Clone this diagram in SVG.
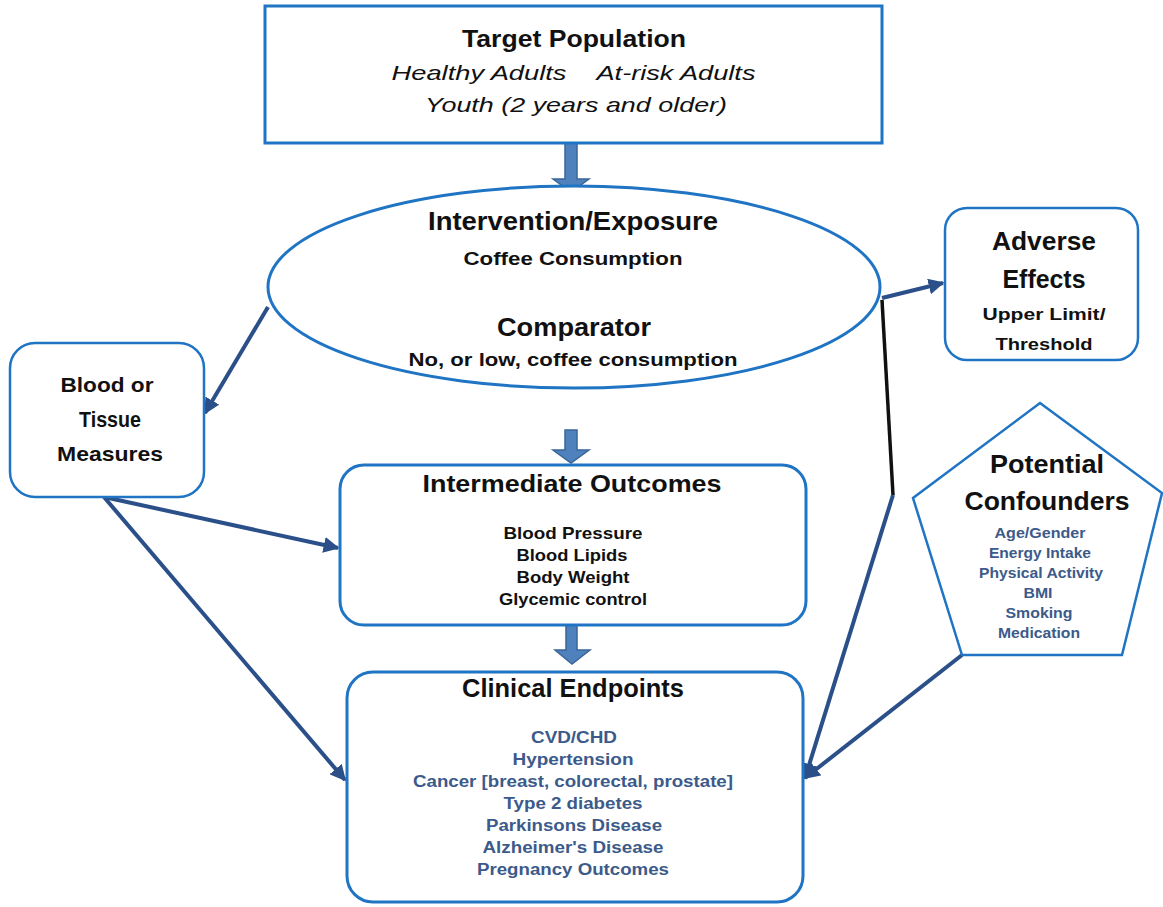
<svg xmlns="http://www.w3.org/2000/svg" width="1163" height="907" viewBox="0 0 1163 907">
<defs>
<style>
.box{fill:#fff;stroke:#1f74c4;stroke-width:3}
.thin{fill:#fff;stroke:#1f74c4;stroke-width:2.5}
.blk{fill:#4f81bd;stroke:#3a6698;stroke-width:1.5}
.con{fill:none;stroke:#2b5089;stroke-width:4}
.t{font-family:"Liberation Sans",Arial,sans-serif;font-weight:bold;fill:#111;text-anchor:middle}
.i{font-family:"Liberation Sans",Arial,sans-serif;font-style:italic;fill:#111;text-anchor:middle}
.b{font-family:"Liberation Sans",Arial,sans-serif;font-weight:bold;fill:#3c5a8a;text-anchor:middle}
</style>
<marker id="ah" viewBox="0 0 10 10" refX="9" refY="5" markerWidth="4" markerHeight="4" orient="auto" markerUnits="strokeWidth">
<path d="M0,0 L10,5 L0,10 z" fill="#2b5089"/>
</marker>
</defs>

<g id="connectors">
<path class="con" d="M268,307 L205,413" marker-end="url(#ah)"/>
<path class="con" d="M104,497 L338,548" marker-end="url(#ah)"/>
<path class="con" d="M104,497 L345,780" marker-end="url(#ah)"/>
<path class="con" d="M882,298 L943,283" marker-end="url(#ah)"/>
<path d="M882,300 L893,495" fill="none" stroke="#111" stroke-width="3.5"/>
<path class="con" d="M893,495 L805,778" marker-end="url(#ah)"/>
<path class="con" d="M962,655 L805,778" marker-end="url(#ah)"/>
<path class="blk" d="M565,143 L577,143 L577,179 L589,179 L571,192 L553,179 L565,179 z"/>
<path class="blk" d="M565,430 L577,430 L577,450 L589,450 L571,463 L553,450 L565,450 z"/>
<path class="blk" d="M566,624 L577,624 L577,650 L590,650 L572,664 L555,650 L566,650 z"/>
</g>

<g id="target">
<rect class="box" x="265" y="6" width="617" height="137"/>
<text class="t" x="574" y="47" font-size="24" textLength="224" lengthAdjust="spacingAndGlyphs">Target Population</text>
<text class="i" x="479" y="80" font-size="21" textLength="175" lengthAdjust="spacingAndGlyphs">Healthy Adults</text>
<text class="i" x="676" y="80" font-size="21" textLength="159" lengthAdjust="spacingAndGlyphs">At-risk Adults</text>
<text class="i" x="576" y="112" font-size="21" textLength="302" lengthAdjust="spacingAndGlyphs">Youth (2 years and older)</text>
</g>

<g id="intervention">
<ellipse class="box" cx="574" cy="287" rx="306" ry="101"/>
<text class="t" x="573" y="230" font-size="25" textLength="290" lengthAdjust="spacingAndGlyphs">Intervention/Exposure</text>
<text class="t" x="573" y="265" font-size="19" textLength="219" lengthAdjust="spacingAndGlyphs">Coffee Consumption</text>
<text class="t" x="574" y="336" font-size="25" textLength="154" lengthAdjust="spacingAndGlyphs">Comparator</text>
<text class="t" x="573" y="366" font-size="19" textLength="329" lengthAdjust="spacingAndGlyphs">No, or low, coffee consumption</text>
</g>

<g id="adverse">
<rect class="thin" x="945" y="208" width="193" height="152" rx="22"/>
<text class="t" x="1044" y="250" font-size="25" textLength="104" lengthAdjust="spacingAndGlyphs">Adverse</text>
<text class="t" x="1044" y="288" font-size="25" textLength="83" lengthAdjust="spacingAndGlyphs">Effects</text>
<text class="t" x="1044" y="320" font-size="17" textLength="123" lengthAdjust="spacingAndGlyphs">Upper Limit/</text>
<text class="t" x="1044" y="350" font-size="17" textLength="97" lengthAdjust="spacingAndGlyphs">Threshold</text>
</g>

<g id="confounders">
<polygon class="thin" points="1040,403 1162,493 1122,655 962,655 913,498"/>
<text class="t" x="1047" y="473" font-size="26" textLength="114" lengthAdjust="spacingAndGlyphs">Potential</text>
<text class="t" x="1047" y="510" font-size="26" textLength="165" lengthAdjust="spacingAndGlyphs">Confounders</text>
<text class="b" x="1040" y="538" font-size="15" textLength="91" lengthAdjust="spacingAndGlyphs">Age/Gender</text>
<text class="b" x="1040" y="558" font-size="15" textLength="102" lengthAdjust="spacingAndGlyphs">Energy Intake</text>
<text class="b" x="1041" y="578" font-size="15" textLength="124" lengthAdjust="spacingAndGlyphs">Physical Activity</text>
<text class="b" x="1038" y="598" font-size="15" textLength="29" lengthAdjust="spacingAndGlyphs">BMI</text>
<text class="b" x="1039" y="618" font-size="15" textLength="67" lengthAdjust="spacingAndGlyphs">Smoking</text>
<text class="b" x="1039" y="638" font-size="15" textLength="82" lengthAdjust="spacingAndGlyphs">Medication</text>
</g>

<g id="blood">
<rect class="thin" x="10" y="343" width="194" height="154" rx="25"/>
<text class="t" x="107" y="392" font-size="21" textLength="93" lengthAdjust="spacingAndGlyphs">Blood or</text>
<text class="t" x="110" y="427" font-size="22" textLength="62" lengthAdjust="spacingAndGlyphs">Tissue</text>
<text class="t" x="110" y="461" font-size="21" textLength="106" lengthAdjust="spacingAndGlyphs">Measures</text>
</g>

<g id="intermediate">
<rect class="box" x="340" y="465" width="466" height="160" rx="24"/>
<text class="t" x="572" y="492" font-size="24" textLength="299" lengthAdjust="spacingAndGlyphs">Intermediate Outcomes</text>
<text class="t" x="573" y="539" font-size="17" textLength="139" lengthAdjust="spacingAndGlyphs">Blood Pressure</text>
<text class="t" x="572" y="561" font-size="17" textLength="111" lengthAdjust="spacingAndGlyphs">Blood Lipids</text>
<text class="t" x="573" y="583" font-size="17" textLength="113" lengthAdjust="spacingAndGlyphs">Body Weight</text>
<text class="t" x="573" y="605" font-size="17" textLength="148" lengthAdjust="spacingAndGlyphs">Glycemic control</text>
</g>

<g id="clinical">
<rect class="box" x="347" y="672" width="456" height="230" rx="26"/>
<text class="t" x="573" y="697" font-size="25" textLength="222" lengthAdjust="spacingAndGlyphs">Clinical Endpoints</text>
<text class="b" x="574" y="743" font-size="16" textLength="86" lengthAdjust="spacingAndGlyphs">CVD/CHD</text>
<text class="b" x="573" y="765" font-size="16" textLength="121" lengthAdjust="spacingAndGlyphs">Hypertension</text>
<text class="b" x="573" y="787" font-size="16" textLength="320" lengthAdjust="spacingAndGlyphs">Cancer [breast, colorectal, prostate]</text>
<text class="b" x="573" y="809" font-size="16" textLength="139" lengthAdjust="spacingAndGlyphs">Type 2 diabetes</text>
<text class="b" x="574" y="831" font-size="16" textLength="176" lengthAdjust="spacingAndGlyphs">Parkinsons Disease</text>
<text class="b" x="573" y="853" font-size="16" textLength="181" lengthAdjust="spacingAndGlyphs">Alzheimer's Disease</text>
<text class="b" x="573" y="875" font-size="16" textLength="192" lengthAdjust="spacingAndGlyphs">Pregnancy Outcomes</text>
</g>
</svg>
